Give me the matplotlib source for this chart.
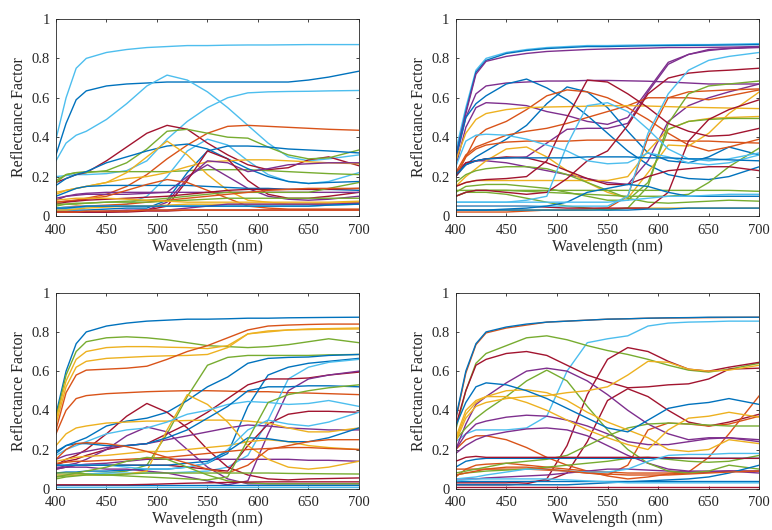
import matplotlib
matplotlib.use("Agg")
import matplotlib.pyplot as plt
from matplotlib.ticker import FuncFormatter

plt.rcParams["font.family"] = ["Liberation Serif", "DejaVu Serif"]

# Sample wavelengths (nm) shared by every spectrum
wavelengths = [400, 410, 420, 430, 450, 470, 490, 510, 530, 550, 570, 590, 610, 630, 650, 670, 700]

palette = {
    "b": "#0072BD", "o": "#D95319", "y": "#EDB120", "p": "#7E2F8E",
    "g": "#77AC30", "c": "#4DBEEE", "r": "#A2142F",
}

# ---- Set 1 ----
set1_colors = ["c", "b", "c", "c", "c", "r", "o", "g", "g", "b", "b", "y", "y", "p", "p", "r",
               "b", "p", "o", "r", "g", "o", "c", "y", "g", "p", "r", "b", "o", "y"]
set1_values = [
    [.39, .60, .75, .80, .83, .845, .855, .86, .865, .865, .867, .868, .868, .869, .87, .87, .87],
    [.31, .47, .59, .635, .66, .67, .675, .68, .68, .68, .68, .68, .68, .68, .69, .705, .735],
    [.28, .37, .41, .43, .49, .57, .66, .715, .69, .63, .55, .46, .37, .30, .28, .29, .31],
    [.20, .205, .21, .21, .215, .23, .28, .39, .48, .55, .60, .625, .63, .632, .633, .635, .637],
    [.04, .04, .04, .045, .05, .06, .10, .20, .33, .39, .36, .28, .21, .175, .165, .175, .22],
    [.17, .19, .21, .22, .28, .35, .42, .46, .44, .37, .31, .26, .235, .245, .285, .30, .255],
    [.07, .075, .08, .09, .11, .15, .21, .29, .36, .42, .455, .46, .455, .45, .445, .44, .435],
    [.18, .21, .22, .22, .23, .27, .34, .43, .44, .42, .40, .395, .35, .31, .29, .295, .335],
    [.17, .21, .22, .225, .225, .225, .225, .225, .23, .235, .235, .235, .23, .225, .22, .215, .21],
    [.155, .19, .21, .225, .27, .30, .33, .355, .365, .34, .29, .24, .20, .175, .165, .17, .175],
    [.03, .03, .03, .03, .035, .04, .04, .08, .22, .33, .355, .355, .35, .34, .335, .33, .32],
    [.12, .13, .14, .15, .17, .22, .30, .38, .31, .21, .13, .08, .07, .06, .06, .06, .06],
    [.11, .13, .14, .15, .17, .19, .20, .22, .25, .275, .28, .285, .285, .28, .275, .27, .265],
    [.02, .02, .02, .02, .02, .025, .03, .07, .19, .28, .27, .225, .24, .26, .265, .27, .27],
    [.09, .10, .105, .11, .11, .11, .115, .12, .20, .26, .20, .14, .10, .085, .08, .085, .10],
    [.02, .02, .02, .02, .02, .025, .03, .05, .18, .33, .29, .18, .11, .09, .09, .10, .12],
    [.10, .12, .14, .15, .155, .155, .155, .155, .155, .15, .145, .14, .14, .135, .135, .135, .13],
    [.08, .10, .11, .115, .12, .12, .12, .12, .12, .12, .12, .12, .12, .12, .12, .12, .12],
    [.07, .075, .08, .085, .10, .13, .16, .185, .17, .13, .09, .05, .04, .035, .035, .035, .035],
    [.06, .07, .075, .08, .085, .09, .095, .10, .11, .12, .13, .135, .135, .135, .135, .135, .14],
    [.05, .06, .06, .065, .07, .075, .08, .09, .10, .11, .12, .12, .12, .12, .12, .14, .17],
    [.04, .045, .05, .05, .055, .06, .07, .08, .09, .10, .11, .12, .13, .135, .14, .14, .14],
    [.04, .045, .045, .05, .05, .05, .05, .05, .05, .05, .05, .05, .05, .05, .05, .055, .06],
    [.03, .03, .035, .04, .045, .05, .05, .055, .06, .06, .06, .06, .06, .06, .06, .065, .07],
    [.06, .06, .065, .065, .07, .07, .07, .075, .08, .085, .09, .09, .09, .09, .09, .09, .09],
    [.02, .02, .02, .02, .025, .03, .03, .03, .04, .05, .06, .06, .06, .06, .06, .06, .065],
    [.02, .02, .02, .02, .02, .02, .025, .025, .03, .03, .03, .03, .03, .03, .03, .03, .03],
    [.04, .04, .045, .05, .05, .05, .05, .05, .05, .05, .05, .05, .05, .05, .05, .055, .06],
    [.02, .02, .02, .025, .025, .025, .03, .03, .03, .03, .03, .03, .03, .03, .03, .03, .03],
    [.08, .085, .09, .09, .09, .085, .08, .075, .07, .07, .07, .07, .07, .07, .07, .07, .075],
]

# ---- Set 2 ----
set2_colors = ["c", "b", "p", "p", "p", "p", "p", "b", "b", "o", "o", "o", "o", "y", "y", "y",
               "y", "g", "g", "g", "g", "g", "r", "r", "r", "r", "c", "c", "c", "b", "b", "b", "c"]
set2_values = [
    [.33, .55, .74, .80, .83, .845, .855, .86, .865, .865, .867, .868, .869, .87, .87, .872, .875],
    [.30, .53, .73, .79, .825, .84, .85, .855, .86, .86, .862, .864, .865, .866, .867, .868, .87],
    [.30, .52, .72, .785, .81, .825, .835, .84, .845, .848, .85, .852, .855, .855, .856, .857, .86],
    [.28, .50, .62, .66, .675, .68, .685, .685, .688, .688, .686, .684, .68, .675, .67, .67, .67],
    [.25, .45, .55, .575, .57, .56, .53, .51, .48, .465, .50, .64, .78, .82, .845, .85, .855],
    [.22, .26, .28, .29, .295, .30, .37, .44, .445, .445, .47, .63, .77, .82, .84, .85, .86],
    [.22, .27, .28, .28, .27, .25, .23, .21, .19, .17, .16, .28, .48, .56, .60, .63, .67],
    [.30, .50, .57, .61, .67, .695, .65, .59, .51, .42, .33, .26, .21, .19, .185, .20, .25],
    [.20, .26, .30, .33, .39, .46, .57, .655, .63, .55, .43, .32, .28, .27, .30, .35, .31],
    [.20, .30, .40, .44, .48, .54, .61, .64, .63, .60, .55, .49, .42, .36, .33, .35, .39],
    [.22, .31, .35, .37, .41, .43, .445, .47, .50, .53, .56, .60, .60, .60, .59, .61, .64],
    [.20, .30, .34, .36, .375, .38, .38, .38, .385, .385, .385, .385, .385, .38, .38, .375, .37],
    [.02, .02, .02, .02, .02, .025, .03, .03, .035, .04, .10, .40, .60, .63, .635, .64, .645],
    [.28, .42, .49, .52, .54, .55, .553, .555, .557, .56, .56, .558, .555, .552, .55, .548, .545],
    [.15, .20, .24, .28, .34, .35, .30, .23, .17, .12, .09, .22, .36, .355, .42, .52, .63],
    [.15, .17, .18, .18, .18, .18, .18, .18, .18, .18, .20, .33, .44, .48, .495, .50, .505],
    [.03, .03, .03, .03, .03, .03, .03, .03, .03, .035, .04, .04, .04, .04, .04, .04, .04],
    [.10, .12, .12, .12, .11, .09, .07, .05, .04, .03, .04, .15, .47, .62, .66, .67, .685],
    [.12, .15, .155, .16, .16, .15, .14, .12, .10, .08, .08, .17, .44, .48, .49, .495, .495],
    [.13, .13, .13, .13, .13, .125, .12, .115, .11, .105, .10, .10, .10, .11, .17, .25, .345],
    [.10, .12, .13, .13, .13, .13, .13, .13, .13, .13, .13, .13, .13, .13, .13, .13, .125],
    [.17, .21, .23, .24, .25, .25, .24, .21, .17, .13, .09, .07, .065, .07, .075, .08, .075],
    [.15, .17, .18, .185, .19, .20, .28, .50, .69, .68, .62, .55, .47, .43, .405, .41, .445],
    [.10, .12, .13, .13, .12, .11, .12, .19, .28, .33, .46, .62, .70, .725, .735, .74, .75],
    [.05, .05, .05, .05, .05, .05, .045, .04, .04, .04, .04, .04, .12, .38, .49, .54, .59],
    [.20, .27, .28, .29, .30, .295, .27, .23, .19, .16, .16, .20, .23, .24, .25, .25, .23],
    [.25, .38, .41, .415, .41, .39, .36, .33, .28, .265, .27, .32, .30, .27, .26, .27, .31],
    [.07, .07, .07, .07, .07, .08, .10, .36, .56, .575, .53, .44, .34, .29, .28, .29, .32],
    [.05, .05, .05, .05, .05, .05, .05, .05, .05, .05, .10, .42, .62, .74, .79, .81, .83],
    [.21, .26, .28, .29, .295, .295, .295, .295, .30, .30, .30, .295, .295, .29, .29, .285, .28],
    [.03, .03, .03, .03, .035, .04, .05, .07, .12, .14, .16, .15, .12, .10, .10, .10, .10],
    [.03, .03, .03, .03, .03, .03, .03, .03, .03, .03, .03, .035, .035, .04, .04, .04, .04],
    [.07, .07, .07, .07, .07, .07, .07, .07, .07, .07, .08, .09, .10, .10, .105, .11, .11],
]

# ---- Set 3 ----
set3_colors = ["b", "g", "y", "y", "o", "o", "g", "b", "b", "c", "r", "r", "r", "p", "p", "p",
               "p", "y", "y", "y", "c", "c", "b", "b", "o", "o", "g", "g", "g", "b", "c", "r"]
set3_values = [
    [.38, .60, .74, .80, .83, .845, .855, .86, .865, .865, .867, .87, .87, .872, .873, .874, .875],
    [.36, .58, .70, .75, .77, .775, .77, .76, .745, .73, .725, .72, .725, .735, .75, .765, .745],
    [.35, .55, .66, .70, .72, .725, .725, .722, .72, .715, .73, .79, .805, .81, .815, .817, .82],
    [.33, .52, .62, .65, .665, .67, .675, .678, .68, .685, .72, .79, .80, .81, .812, .814, .815],
    [.30, .49, .58, .605, .61, .615, .625, .66, .70, .73, .77, .81, .83, .835, .838, .84, .84],
    [.28, .40, .46, .475, .485, .49, .495, .498, .50, .50, .498, .495, .495, .49, .488, .485, .48],
    [.06, .065, .07, .075, .08, .09, .12, .28, .47, .63, .67, .68, .68, .68, .68, .683, .685],
    [.18, .22, .24, .26, .32, .345, .36, .39, .45, .52, .57, .64, .665, .67, .672, .68, .685],
    [.08, .085, .085, .09, .09, .095, .10, .10, .11, .13, .18, .42, .58, .62, .64, .65, .665],
    [.07, .07, .075, .075, .08, .08, .08, .08, .085, .09, .11, .17, .35, .56, .62, .645, .66],
    [.12, .15, .17, .20, .28, .37, .435, .39, .31, .20, .11, .07, .05, .045, .05, .052, .055],
    [.12, .14, .15, .17, .20, .22, .23, .28, .33, .39, .46, .53, .56, .56, .565, .58, .595],
    [.10, .11, .12, .12, .12, .12, .12, .12, .11, .10, .09, .22, .33, .38, .395, .395, .39],
    [.10, .12, .13, .15, .20, .27, .315, .29, .20, .11, .05, .025, .025, .025, .025, .025, .025],
    [.11, .11, .11, .11, .10, .10, .09, .08, .06, .04, .02, .04, .28, .50, .56, .58, .60],
    [.15, .17, .18, .19, .21, .22, .23, .25, .27, .29, .31, .325, .32, .31, .305, .30, .30],
    [.10, .11, .12, .125, .13, .14, .15, .15, .15, .15, .15, .15, .15, .15, .145, .145, .14],
    [.07, .07, .07, .07, .07, .075, .09, .30, .48, .43, .34, .22, .15, .11, .10, .11, .14],
    [.22, .28, .31, .32, .335, .34, .345, .345, .348, .35, .35, .345, .335, .31, .29, .29, .31],
    [.14, .15, .16, .165, .17, .18, .19, .19, .20, .21, .22, .24, .25, .24, .22, .21, .20],
    [.17, .20, .22, .24, .28, .30, .31, .34, .38, .40, .43, .445, .44, .43, .435, .45, .42],
    [.12, .12, .12, .12, .12, .11, .10, .10, .11, .13, .20, .30, .35, .33, .32, .34, .39],
    [.12, .12, .12, .12, .12, .12, .12, .12, .13, .14, .19, .26, .255, .24, .24, .26, .31],
    [.19, .22, .23, .23, .22, .22, .23, .26, .30, .36, .42, .50, .52, .52, .525, .525, .52],
    [.15, .20, .23, .235, .23, .215, .19, .16, .13, .10, .08, .12, .20, .22, .24, .25, .25],
    [.13, .135, .14, .14, .145, .15, .155, .16, .17, .18, .19, .20, .205, .21, .21, .205, .20],
    [.05, .06, .065, .07, .07, .075, .08, .08, .08, .08, .08, .08, .08, .078, .077, .076, .075],
    [.06, .07, .08, .09, .11, .14, .16, .15, .11, .07, .04, .03, .025, .025, .025, .025, .025],
    [.08, .08, .08, .075, .07, .065, .06, .055, .05, .045, .06, .25, .44, .48, .50, .515, .53],
    [.02, .02, .02, .02, .02, .02, .02, .02, .02, .02, .02, .02, .02, .02, .02, .02, .02],
    [.01, .01, .01, .01, .01, .01, .01, .01, .01, .01, .01, .01, .01, .01, .01, .01, .01],
    [.02, .02, .02, .02, .02, .02, .022, .025, .028, .03, .032, .034, .035, .035, .035, .035, .035],
]

# ---- Set 4 ----
set4_colors = ["o", "b", "c", "g", "r", "r", "r", "o", "o", "o", "p", "p", "p", "p", "g", "g",
               "g", "y", "y", "y", "b", "b", "b", "b", "r", "c", "c", "r", "o"]
set4_values = [
    [.35, .59, .735, .795, .82, .835, .85, .855, .86, .865, .867, .87, .871, .872, .873, .874, .875],
    [.36, .60, .74, .80, .825, .84, .85, .855, .86, .865, .867, .87, .872, .873, .875, .875, .875],
    [.24, .28, .30, .30, .30, .31, .37, .60, .745, .765, .78, .83, .845, .85, .852, .855, .855],
    [.30, .50, .64, .69, .73, .77, .78, .76, .73, .705, .685, .66, .63, .605, .595, .61, .64],
    [.32, .50, .63, .66, .69, .70, .68, .63, .58, .545, .515, .52, .53, .535, .56, .61, .615],
    [.02, .02, .02, .02, .02, .025, .05, .22, .48, .66, .72, .70, .65, .61, .60, .62, .645],
    [.03, .03, .03, .03, .03, .035, .04, .08, .24, .45, .51, .47, .40, .34, .32, .34, .38],
    [.06, .10, .12, .125, .13, .12, .11, .10, .09, .085, .08, .08, .08, .085, .16, .28, .475],
    [.20, .25, .27, .27, .25, .21, .16, .12, .09, .065, .05, .06, .075, .08, .085, .09, .09],
    [.10, .10, .10, .10, .10, .10, .095, .09, .08, .07, .12, .30, .335, .33, .32, .33, .37],
    [.20, .33, .43, .47, .54, .60, .615, .60, .55, .48, .40, .33, .28, .25, .26, .26, .25],
    [.20, .28, .33, .345, .365, .375, .37, .35, .32, .28, .24, .225, .225, .24, .255, .26, .24],
    [.18, .22, .25, .27, .29, .305, .31, .30, .27, .22, .17, .13, .10, .09, .09, .09, .08],
    [.05, .05, .05, .055, .06, .065, .07, .08, .09, .10, .10, .095, .09, .085, .085, .09, .09],
    [.25, .31, .36, .40, .47, .55, .605, .55, .42, .30, .20, .13, .09, .08, .09, .12, .10],
    [.08, .09, .10, .11, .13, .14, .15, .17, .22, .27, .31, .33, .335, .33, .325, .32, .32],
    [.07, .08, .085, .09, .095, .10, .11, .12, .13, .14, .155, .16, .15, .14, .135, .14, .17],
    [.25, .38, .44, .47, .50, .505, .49, .45, .39, .34, .30, .26, .20, .19, .20, .25, .23],
    [.24, .36, .42, .44, .46, .47, .475, .49, .50, .52, .58, .65, .645, .61, .60, .605, .63],
    [.26, .40, .45, .47, .47, .44, .40, .35, .30, .26, .225, .20, .30, .36, .37, .39, .365],
    [.32, .44, .52, .54, .53, .50, .46, .41, .36, .31, .29, .35, .41, .43, .44, .46, .43],
    [.11, .14, .15, .155, .155, .155, .155, .155, .155, .155, .155, .155, .155, .155, .155, .155, .155],
    [.02, .02, .02, .02, .02, .02, .02, .02, .025, .03, .035, .04, .045, .05, .06, .08, .12],
    [.04, .04, .04, .04, .04, .04, .04, .04, .04, .04, .04, .04, .04, .04, .04, .04, .04],
    [.14, .16, .165, .16, .16, .16, .16, .16, .16, .16, .16, .16, .158, .156, .155, .155, .155],
    [.05, .055, .06, .07, .085, .10, .10, .09, .085, .085, .10, .14, .17, .175, .175, .18, .18],
    [.04, .045, .05, .05, .05, .05, .05, .045, .04, .035, .03, .03, .03, .03, .03, .03, .03],
    [.01, .01, .01, .01, .01, .01, .01, .01, .01, .01, .01, .01, .01, .01, .01, .01, .01],
    [.07, .08, .09, .10, .11, .11, .10, .09, .08, .075, .07, .07, .07, .075, .08, .085, .09],
]

x_ticks = [400, 450, 500, 550, 600, 650, 700]
y_ticks = [0, 0.2, 0.4, 0.6, 0.8, 1]
x_label = "Wavelength (nm)"
y_label = "Reflectance Factor"

fig = plt.figure(figsize=(7.72, 5.30), dpi=100)
axes_rects = [
    [0.0725, 0.5925, 0.3925, 0.3717],
    [0.5903, 0.5925, 0.3933, 0.3717],
    [0.0725, 0.0779, 0.3925, 0.3698],
    [0.5903, 0.0779, 0.3933, 0.3698],
]
datasets = [
    (set1_colors, set1_values),
    (set2_colors, set2_values),
    (set3_colors, set3_values),
    (set4_colors, set4_values),
]

axis_color = "#262626"
fmt = FuncFormatter(lambda v, _: f"{v:g}")

for rect, (colors, values) in zip(axes_rects, datasets):
    ax = fig.add_axes(rect)
    for key, curve in zip(colors, values):
        ax.plot(wavelengths, curve, color=palette[key], lw=1.0, solid_joinstyle="round")
    ax.set_xlim(400, 700)
    ax.set_ylim(0, 1)
    ax.set_xticks(x_ticks)
    ax.set_yticks(y_ticks)
    ax.yaxis.set_major_formatter(fmt)
    ax.tick_params(direction="in", length=2.5, width=0.6, colors=axis_color,
                   labelsize=10.5, top=True, right=True)
    ax.tick_params(axis="x", pad=5.5)
    ax.tick_params(axis="y", pad=4.5)
    for spine in ax.spines.values():
        spine.set_color(axis_color)
        spine.set_linewidth(0.6)
    ax.set_xlabel(x_label, fontsize=11.5, color=axis_color, labelpad=1.5)
    ax.set_ylabel(y_label, fontsize=11.5, color=axis_color, labelpad=3)

fig.savefig("out.png", dpi=100)
